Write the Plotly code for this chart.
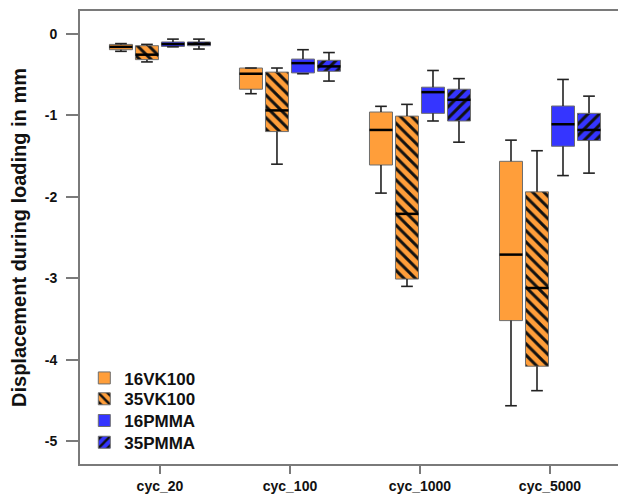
import plotly.graph_objects as go

categories = ["cyc_20", "cyc_100", "cyc_1000", "cyc_5000"]
series = ["16VK100", "35VK100", "16PMMA", "35PMMA"]

# per series: values for each category
upper = {
    "16VK100": [-0.12, -0.42, -0.89, -1.305],
    "35VK100": [-0.13, -0.42, -0.866, -1.435],
    "16PMMA": [-0.065, -0.195, -0.45, -0.56],
    "35PMMA": [-0.065, -0.23, -0.55, -0.765],
}
q3 = {
    "16VK100": [-0.13, -0.42, -0.96, -1.565],
    "35VK100": [-0.146, -0.47, -1.01, -1.94],
    "16PMMA": [-0.10, -0.31, -0.655, -0.886],
    "35PMMA": [-0.10, -0.325, -0.68, -0.976],
}
median = {
    "16VK100": [-0.16, -0.49, -1.18, -2.71],
    "35VK100": [-0.256, -0.94, -2.21, -3.12],
    "16PMMA": [-0.126, -0.36, -0.716, -1.11],
    "35PMMA": [-0.122, -0.40, -0.81, -1.18],
}
q1 = {
    "16VK100": [-0.195, -0.68, -1.61, -3.52],
    "35VK100": [-0.317, -1.20, -3.01, -4.08],
    "16PMMA": [-0.155, -0.48, -0.976, -1.38],
    "35PMMA": [-0.146, -0.46, -1.07, -1.31],
}
lower = {
    "16VK100": [-0.215, -0.735, -1.955, -4.565],
    "35VK100": [-0.345, -1.60, -3.10, -4.38],
    "16PMMA": [-0.16, -0.49, -1.07, -1.74],
    "35PMMA": [-0.187, -0.58, -1.33, -1.71],
}
y_ticks = [0, -1, -2, -3, -4, -5]

colors = {"16VK100": "#FF9E3A", "35VK100": "#FF9E3A", "16PMMA": "#3535FF", "35PMMA": "#3535FF"}
hatch = {"16VK100": "", "35VK100": "\\", "16PMMA": "", "35PMMA": "/"}
offsets = [-0.3, -0.1, 0.1, 0.3]
box_w = 0.177
cap_w = 0.09
legend_ids = ["legend", "legend2", "legend3", "legend4"]
legend_y = [0.189, 0.143, 0.095, 0.047]

fig = go.Figure()

wx, wy = [], []
mx, my = [], []
for k, s in enumerate(series):
    xs = [i + offsets[k] for i in range(len(categories))]
    bases = [min(a, b) for a, b in zip(q1[s], q3[s])]
    heights = [abs(a - b) for a, b in zip(q1[s], q3[s])]
    fig.add_trace(go.Bar(
        x=xs, y=heights, base=bases, width=box_w, name="<b>%s</b>" % s,
        legend=legend_ids[k],
        marker=dict(
            color=colors[s],
            line=dict(color="#6e6e6e", width=1),
            pattern=dict(shape=hatch[s], fgcolor="#111111", bgcolor=colors[s],
                         size=8, solidity=0.38, fillmode="replace"),
        ),
        hoverinfo="skip",
    ))
    for i, x in enumerate(xs):
        top_box = max(q1[s][i], q3[s][i])
        bot_box = min(q1[s][i], q3[s][i])
        wx += [x, x, None, x - cap_w / 2, x + cap_w / 2, None]
        wy += [top_box, upper[s][i], None, upper[s][i], upper[s][i], None]
        wx += [x, x, None, x - cap_w / 2, x + cap_w / 2, None]
        wy += [bot_box, lower[s][i], None, lower[s][i], lower[s][i], None]
        mx += [x - box_w / 2, x + box_w / 2, None]
        my += [median[s][i], median[s][i], None]

fig.add_trace(go.Scatter(x=wx, y=wy, mode="lines", line=dict(color="#222222", width=1.6),
                         showlegend=False, hoverinfo="skip"))
fig.add_trace(go.Scatter(x=mx, y=my, mode="lines", line=dict(color="#000000", width=2.5),
                         showlegend=False, hoverinfo="skip"))

legend_style = dict(
    x=0.008, xanchor="left", yanchor="middle",
    bgcolor="rgba(0,0,0,0)", borderwidth=0,
    font=dict(size=17, family="Liberation Sans, Arial, sans-serif", color="#111111"),
    itemwidth=30,
)
legends = {lid: dict(legend_style, y=ly) for lid, ly in zip(legend_ids, legend_y)}

fig.update_layout(
    width=610, height=486,
    margin=dict(l=72, r=0, t=3, b=27),
    plot_bgcolor="white", paper_bgcolor="white",
    barmode="overlay",
    font=dict(family="Liberation Sans, Arial, sans-serif", color="#111111"),
    xaxis=dict(
        range=[-0.615, 3.523], tickmode="array", tickvals=list(range(len(categories))),
        ticktext=["<b>%s</b>" % c for c in categories],
        showline=True, mirror=True, linecolor="#7a7a7a", linewidth=2,
        ticks="outside", ticklen=8, tickwidth=2, tickcolor="#7a7a7a",
        tickfont=dict(size=14), showgrid=False, zeroline=False,
    ),
    yaxis=dict(
        range=[-5.28, 0.28], tickmode="array", tickvals=y_ticks,
        ticktext=["<b>%d</b>" % v for v in y_ticks],
        showline=True, linecolor="#7a7a7a", linewidth=2,
        ticks="outside", ticklen=12, tickwidth=2, tickcolor="#7a7a7a",
        ticklabelstandoff=6,
        tickfont=dict(size=14), showgrid=False, zeroline=False,
        title=dict(text="<b>Displacement during loading in mm</b>", font=dict(size=20), standoff=22),
    ),
    **legends,
)

fig.write_html("out.html")
